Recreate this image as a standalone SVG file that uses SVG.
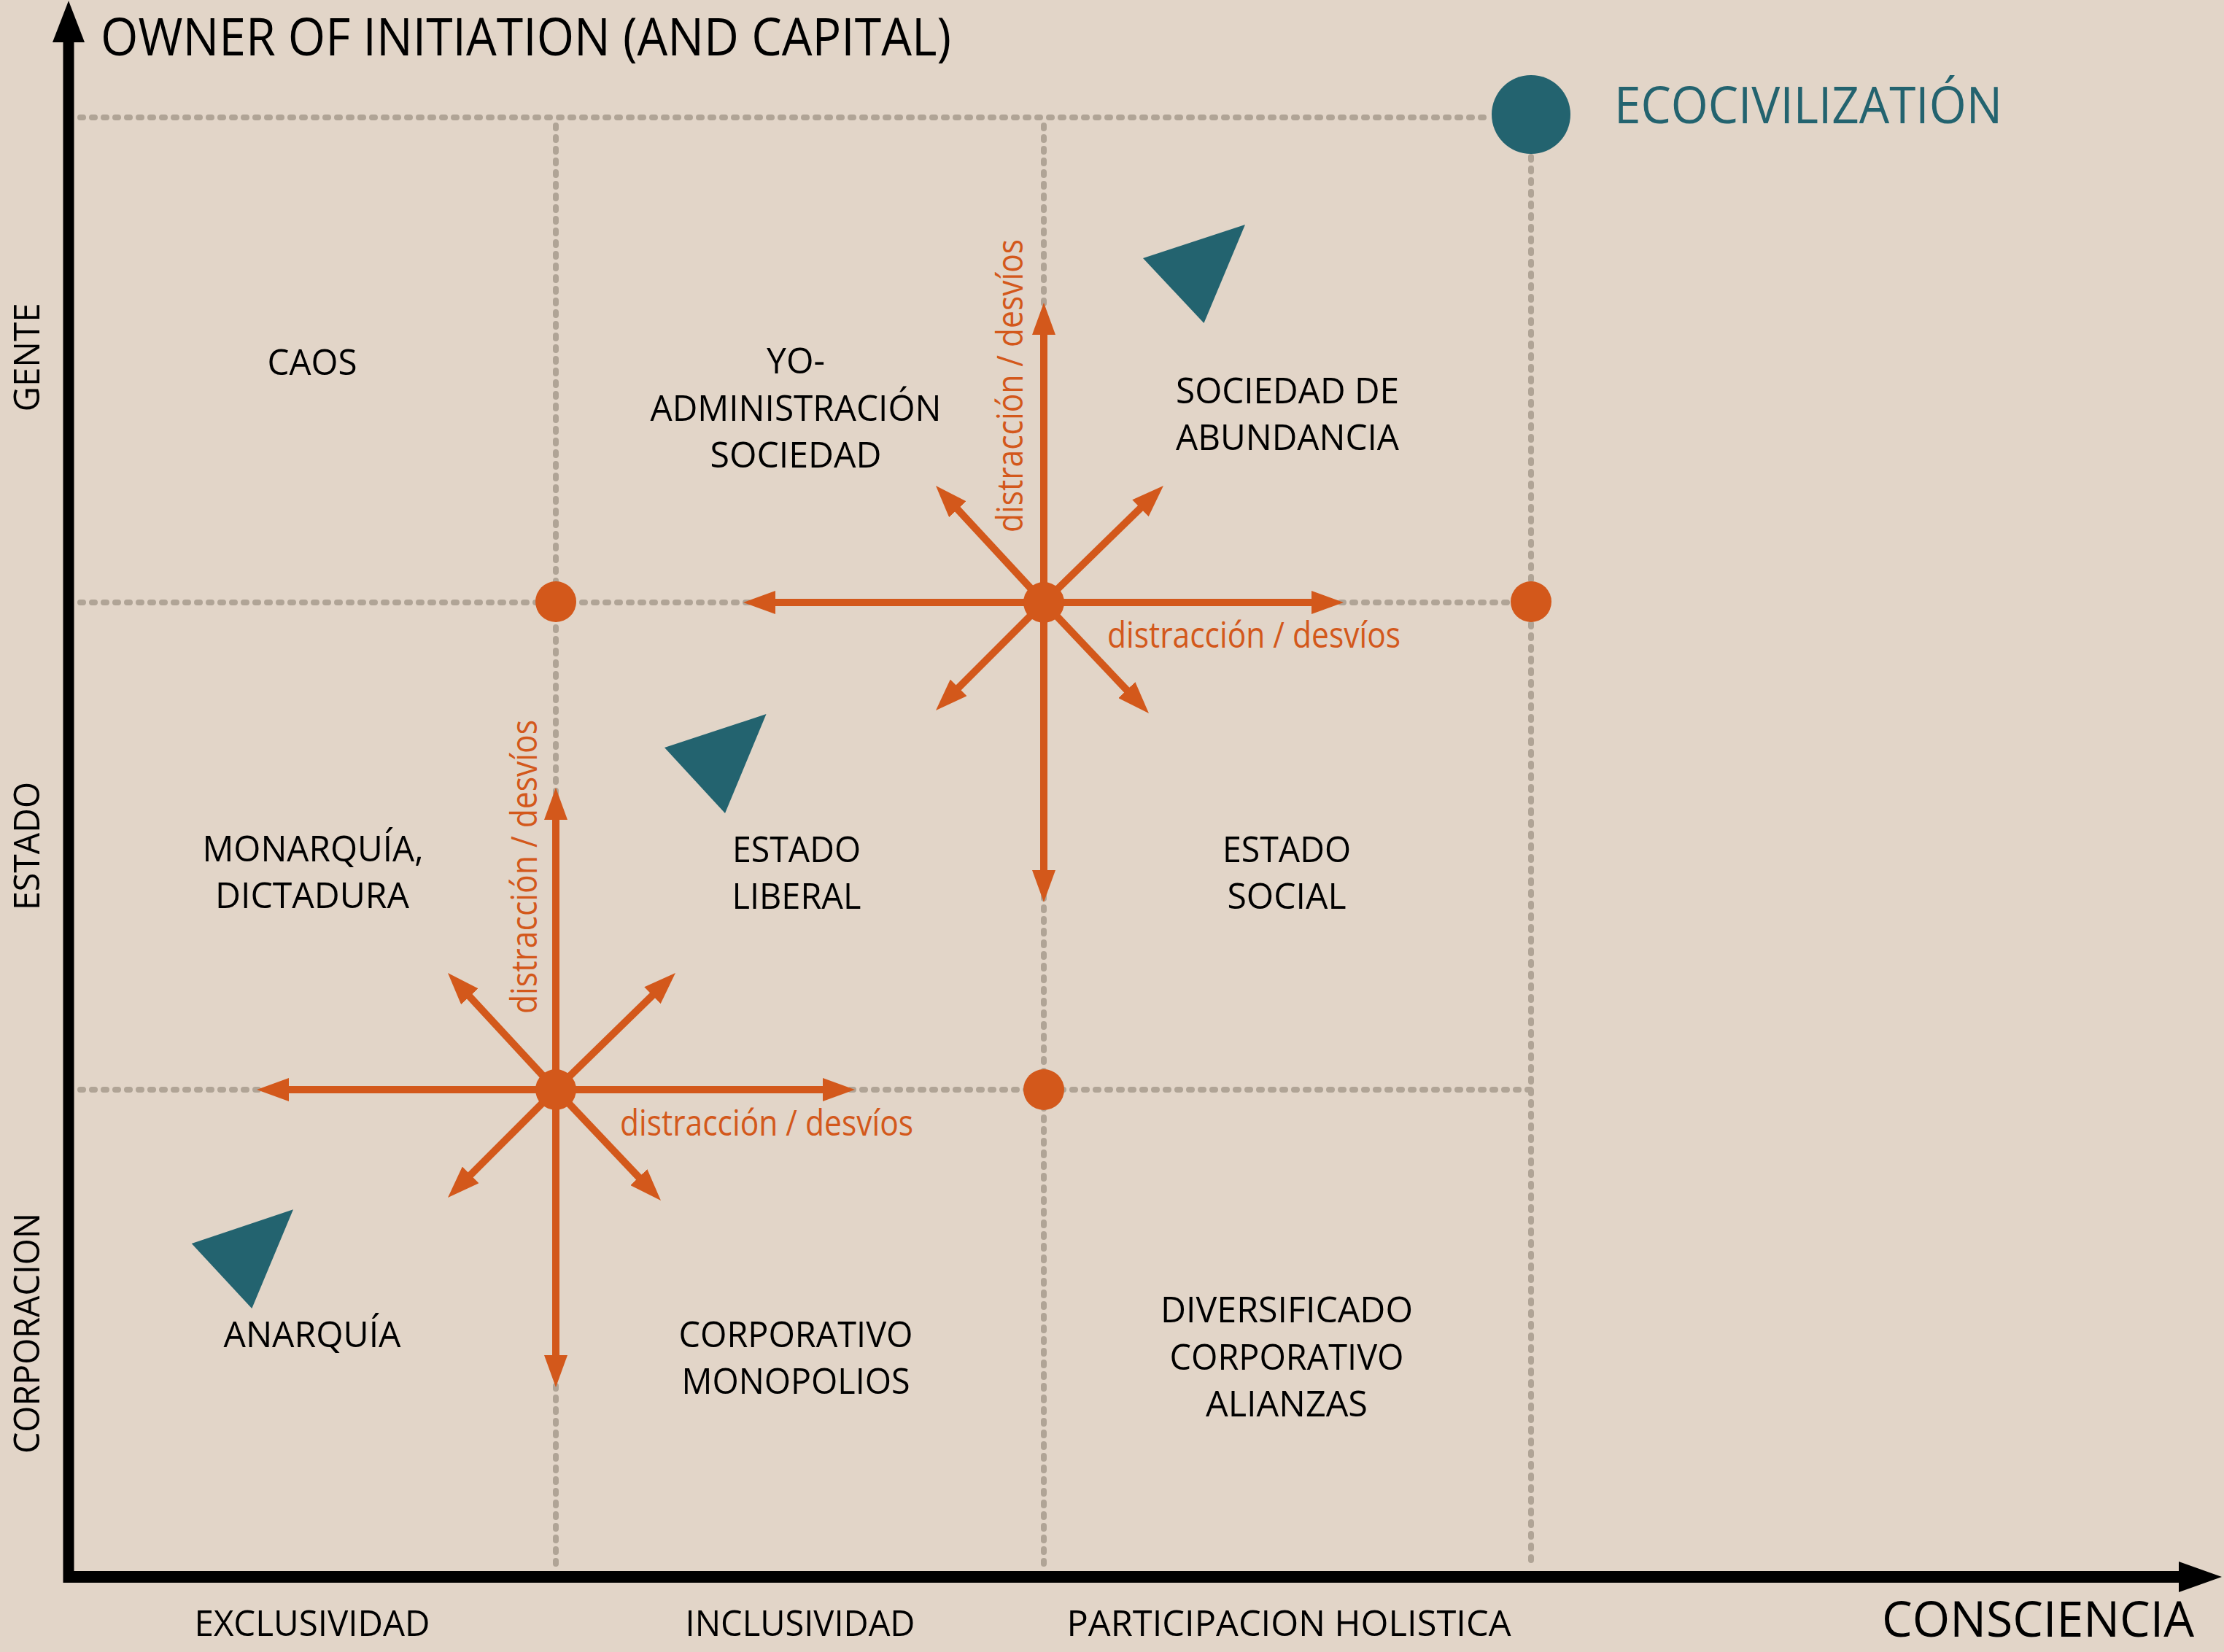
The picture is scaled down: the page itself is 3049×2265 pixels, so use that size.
<svg xmlns="http://www.w3.org/2000/svg" width="3049" height="2265" viewBox="0 0 3049 2265">
<style>
.bg{fill:#e2d5c8}
.grid{fill:none;stroke:#b0a496;stroke-width:8;stroke-linecap:round;stroke-dasharray:4 12}
.axis{stroke:#000;fill:none}
.arr{stroke:#d3581b;stroke-width:10;fill:none;marker-end:url(#ah)}
.dot{fill:#d3581b}
.tri{fill:#23636f}
.lbl{font-family:"Open Sans","Liberation Sans",sans-serif;font-size:50px;fill:#000;text-anchor:middle}
.dist{font-family:"Open Sans","Liberation Sans",sans-serif;font-size:49px;fill:#d3581b}
.big{font-family:"Open Sans","Liberation Sans",sans-serif;font-size:71px;fill:#000}
</style>
<defs>
<marker id="ah" markerUnits="userSpaceOnUse" markerWidth="44" markerHeight="32" refX="2" refY="16" orient="auto">
<path d="M0,0 L44,16 L0,32 Z" fill="#d3581b"/>
</marker>
</defs>
<rect class="bg" x="0" y="0" width="3049" height="2265"/>

<g id="grid">
<line class="grid" x1="110" y1="161" x2="2040" y2="161"/>
<line class="grid" x1="110" y1="826" x2="2090" y2="826"/>
<line class="grid" x1="110" y1="1494" x2="2098" y2="1494"/>
<line class="grid" x1="762" y1="172" x2="762" y2="2148"/>
<line class="grid" x1="1431" y1="172" x2="1431" y2="2148"/>
<line class="grid" x1="2099" y1="215" x2="2099" y2="2148"/>
</g>

<g id="axes">
<line class="axis" x1="94" y1="50" x2="94" y2="2170" stroke-width="15"/>
<path d="M94,1 L116,58 L72,58 Z" fill="#000"/>
<line class="axis" x1="87" y1="2162" x2="2990" y2="2162" stroke-width="16"/>
<path d="M3046,2162 L2987,2141 L2987,2183 Z" fill="#000"/>
</g>

<g id="connectors">
<line class="arr" x1="1431" y1="826" x2="1431" y2="457"/>
<line class="arr" x1="1431" y1="826" x2="1431" y2="1195"/>
<line class="arr" x1="1431" y1="826" x2="1061" y2="826"/>
<line class="arr" x1="1431" y1="826" x2="1800" y2="826"/>
<line class="arr" x1="1431" y1="826" x2="1311.5" y2="696.8"/>
<line class="arr" x1="1431" y1="826" x2="1564.9" y2="695.4"/>
<line class="arr" x1="1431" y1="826" x2="1312.7" y2="944.3"/>
<line class="arr" x1="1431" y1="826" x2="1546.1" y2="947.5"/>

<line class="arr" x1="762" y1="1494" x2="762" y2="1122"/>
<line class="arr" x1="762" y1="1494" x2="762" y2="1860"/>
<line class="arr" x1="762" y1="1494" x2="394" y2="1494"/>
<line class="arr" x1="762" y1="1494" x2="1130" y2="1494"/>
<line class="arr" x1="762" y1="1494" x2="642.5" y2="1364.8"/>
<line class="arr" x1="762" y1="1494" x2="895.9" y2="1363.4"/>
<line class="arr" x1="762" y1="1494" x2="643.7" y2="1612.3"/>
<line class="arr" x1="762" y1="1494" x2="877.1" y2="1615.5"/>
</g>

<g id="dots">
<circle class="dot" cx="762" cy="825" r="28"/>
<circle class="dot" cx="1431" cy="826" r="28"/>
<circle class="dot" cx="2099" cy="825" r="28"/>
<circle class="dot" cx="762" cy="1494" r="28"/>
<circle class="dot" cx="1431" cy="1494" r="28"/>
</g>

<g id="ecocivilizacion">
<circle cx="2099" cy="157" r="54" fill="#23636f"/>
<text class="big" x="2213" y="169" style="font-size:70px;fill:#23636f" textLength="532" lengthAdjust="spacingAndGlyphs">ECOCIVILIZATIÓN</text>
</g>

<g id="triangles">
<polygon class="tri" points="1567,354 1707,308 1650.5,443"/>
<polygon class="tri" points="911,1025 1050.5,979 994,1115"/>
<polygon class="tri" points="262.7,1705 402,1658.3 345.3,1794"/>
</g>

<g id="distraccion-labels">
<text class="dist" transform="translate(1402,730) rotate(-90)" textLength="402" lengthAdjust="spacingAndGlyphs">distracción / desvíos</text>
<text class="dist" x="1518" y="888" textLength="402" lengthAdjust="spacingAndGlyphs">distracción / desvíos</text>
<text class="dist" transform="translate(736,1390) rotate(-90)" textLength="403" lengthAdjust="spacingAndGlyphs">distracción / desvíos</text>
<text class="dist" x="850" y="1557" textLength="402" lengthAdjust="spacingAndGlyphs">distracción / desvíos</text>
</g>

<g id="title">
<text class="big" x="138" y="76" textLength="1166" lengthAdjust="spacingAndGlyphs">OWNER OF INITIATION (AND CAPITAL)</text>
</g>

<g id="y-labels">
<text class="lbl" transform="translate(54,490) rotate(-90)" textLength="149" lengthAdjust="spacingAndGlyphs">GENTE</text>
<text class="lbl" transform="translate(54,1160) rotate(-90)" textLength="176" lengthAdjust="spacingAndGlyphs">ESTADO</text>
<text class="lbl" transform="translate(54,1828) rotate(-90)" textLength="330" lengthAdjust="spacingAndGlyphs">CORPORACION</text>
</g>

<g id="x-labels">
<text class="lbl" x="428" y="2243" textLength="323" lengthAdjust="spacingAndGlyphs">EXCLUSIVIDAD</text>
<text class="lbl" x="1097" y="2243" textLength="315" lengthAdjust="spacingAndGlyphs">INCLUSIVIDAD</text>
<text class="lbl" x="1767" y="2243" textLength="609" lengthAdjust="spacingAndGlyphs">PARTICIPACION HOLISTICA</text>
<text class="big" x="2580" y="2244" style="font-size:68px" textLength="428" lengthAdjust="spacingAndGlyphs">CONSCIENCIA</text>
</g>

<g id="caos"><text class="lbl" x="428" y="514" textLength="123" lengthAdjust="spacingAndGlyphs">CAOS</text></g>
<g id="yo-administracion">
<text class="lbl" x="1091" y="512" textLength="80" lengthAdjust="spacingAndGlyphs">YO-</text>
<text class="lbl" x="1091" y="577" textLength="399" lengthAdjust="spacingAndGlyphs">ADMINISTRACIÓN</text>
<text class="lbl" x="1091" y="641" textLength="235" lengthAdjust="spacingAndGlyphs">SOCIEDAD</text>
</g>
<g id="sociedad-abundancia">
<text class="lbl" x="1765" y="553" textLength="306" lengthAdjust="spacingAndGlyphs">SOCIEDAD DE</text>
<text class="lbl" x="1765" y="617" textLength="306" lengthAdjust="spacingAndGlyphs">ABUNDANCIA</text>
</g>
<g id="monarquia">
<text class="lbl" x="429" y="1181" textLength="303" lengthAdjust="spacingAndGlyphs">MONARQUÍA,</text>
<text class="lbl" x="428" y="1245" textLength="266" lengthAdjust="spacingAndGlyphs">DICTADURA</text>
</g>
<g id="estado-liberal">
<text class="lbl" x="1092" y="1182" textLength="176" lengthAdjust="spacingAndGlyphs">ESTADO</text>
<text class="lbl" x="1092" y="1246" textLength="177" lengthAdjust="spacingAndGlyphs">LIBERAL</text>
</g>
<g id="estado-social">
<text class="lbl" x="1764" y="1182" textLength="176" lengthAdjust="spacingAndGlyphs">ESTADO</text>
<text class="lbl" x="1764" y="1246" textLength="163" lengthAdjust="spacingAndGlyphs">SOCIAL</text>
</g>
<g id="anarquia"><text class="lbl" x="428" y="1847" textLength="243" lengthAdjust="spacingAndGlyphs">ANARQUÍA</text></g>
<g id="corporativo-monopolios">
<text class="lbl" x="1091" y="1847" textLength="321" lengthAdjust="spacingAndGlyphs">CORPORATIVO</text>
<text class="lbl" x="1091" y="1911" textLength="313" lengthAdjust="spacingAndGlyphs">MONOPOLIOS</text>
</g>
<g id="diversificado">
<text class="lbl" x="1764" y="1813" textLength="346" lengthAdjust="spacingAndGlyphs">DIVERSIFICADO</text>
<text class="lbl" x="1764" y="1878" textLength="321" lengthAdjust="spacingAndGlyphs">CORPORATIVO</text>
<text class="lbl" x="1764" y="1942" textLength="222" lengthAdjust="spacingAndGlyphs">ALIANZAS</text>
</g>
</svg>
